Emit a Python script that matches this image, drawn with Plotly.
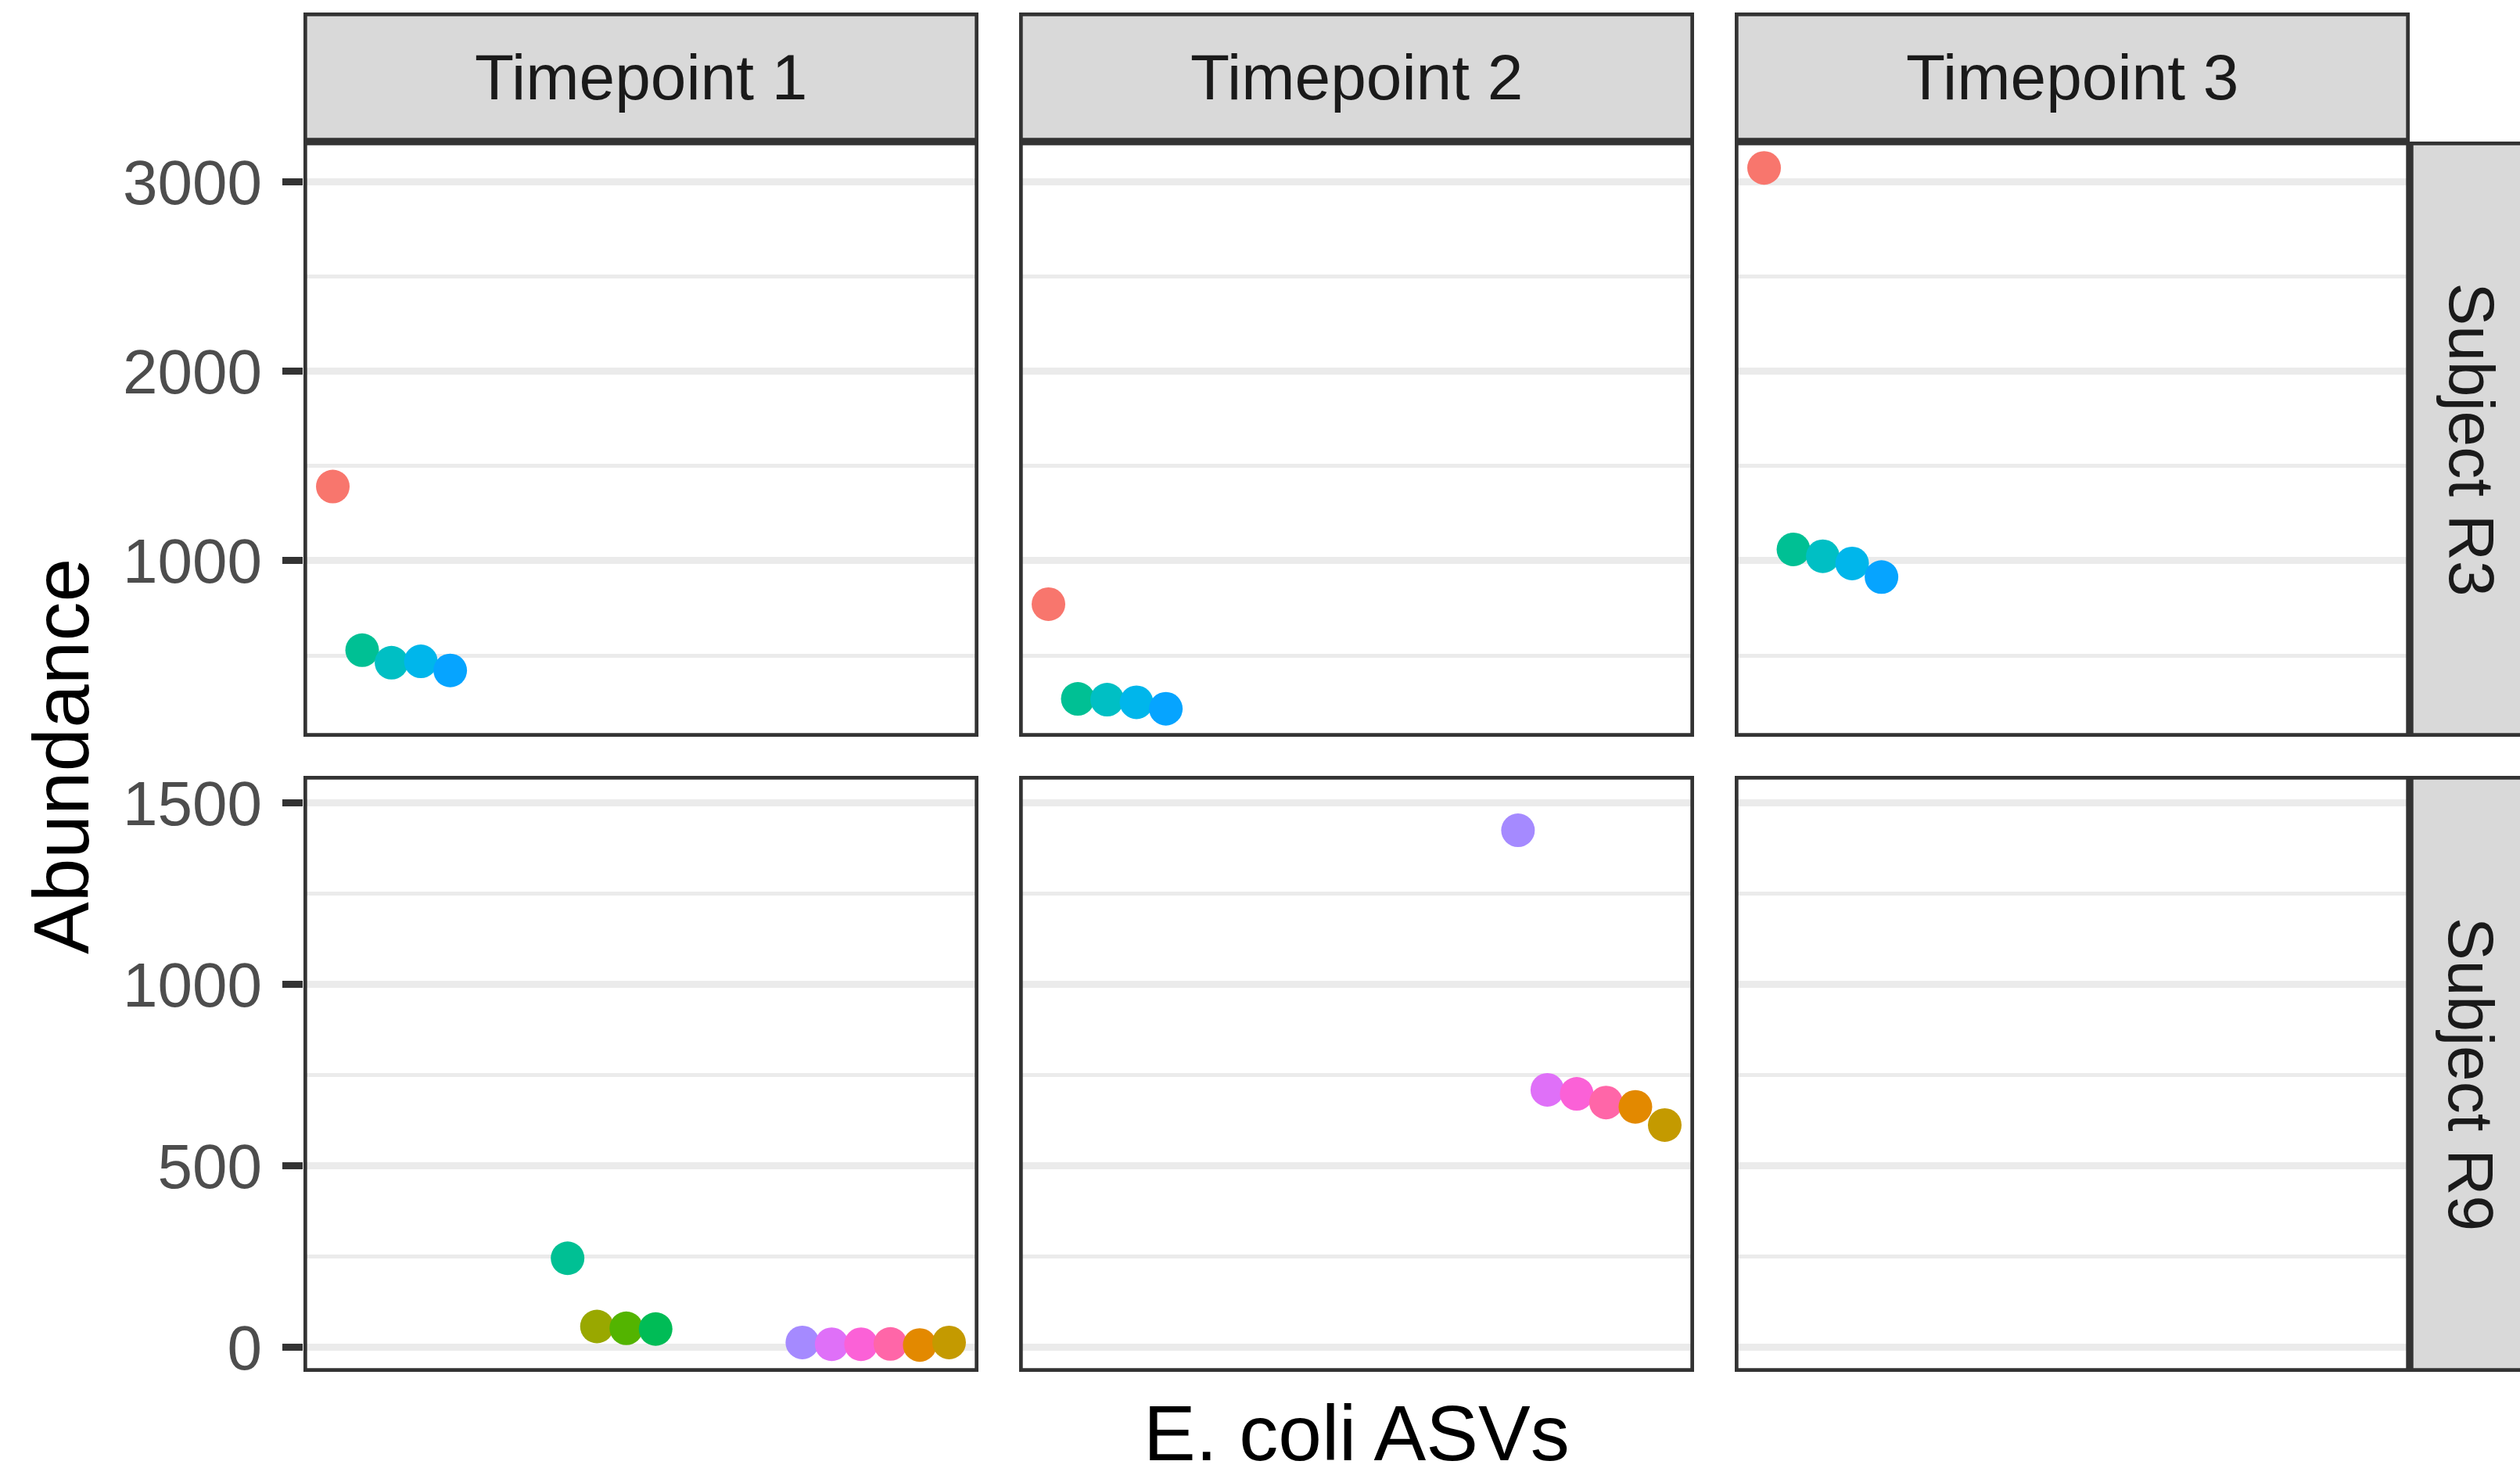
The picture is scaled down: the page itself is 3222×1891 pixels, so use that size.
import plotly.graph_objects as go

# ---------------- data ----------------
timepoints = ["Timepoint 1", "Timepoint 2", "Timepoint 3"]
subjects = ["Subject R3", "Subject R9"]

# x index of each ASV (axis labels hidden in the original)
r3_asv_pos = [1, 2, 3, 4, 5]
r3_colors = ["#F8766D", "#00C094", "#00BFC4", "#00B6EB", "#06A4FF"]
r3_t1 = [1392, 528, 462, 469, 421]
r3_t2 = [771, 271, 267, 253, 219]
r3_t3 = [3074, 1060, 1024, 986, 914]

r9_asv_pos = [9, 10, 11, 12, 17, 18, 19, 20, 21, 22]
r9_colors = ["#00C094", "#99A800", "#53B400", "#00BC56", "#A58AFF",
             "#DF70F8", "#FB61D7", "#FF66A8", "#E38900", "#C49A00"]
r9_t1 = [246, 58, 53, 51, 14, 9, 9, 10, 7, 14]
r9_t2 = [None, None, None, None, 1425, 710, 699, 675, 663, 613]
r9_t3 = [None] * 10

y_ticks = {"Subject R3": [1000, 2000, 3000], "Subject R9": [0, 500, 1000, 1500]}
y_dtick = {"Subject R3": 1000, "Subject R9": 500}
y_range = {"Subject R3": [71, 3213], "Subject R9": [-67, 1575]}
x_range = [0, 23]

panels = {
    ("Subject R3", 0): r3_t1, ("Subject R3", 1): r3_t2, ("Subject R3", 2): r3_t3,
    ("Subject R9", 0): r9_t1, ("Subject R9", 1): r9_t2, ("Subject R9", 2): r9_t3,
}
pos_of = {"Subject R3": r3_asv_pos, "Subject R9": r9_asv_pos}
col_of = {"Subject R3": r3_colors, "Subject R9": r9_colors}

# ---------------- layout geometry (pixels) ----------------
W, H = 3222, 1891
cols_px = [(388, 1251), (1303, 2166), (2218, 3081)]
rows_px = [(181, 942), (992, 1754)]
strip_top = (16, 181)
strip_right = (3081, 3260)
LW = 4.7
FONT = "Liberation Sans, Arial, Helvetica, sans-serif"

def fx(p):
    return p / W

def fy(p):
    return 1 - p / H

fig = go.Figure()
layout = dict(
    width=W, height=H, margin=dict(l=0, r=0, t=0, b=0, autoexpand=False),
    paper_bgcolor="white", plot_bgcolor="white", showlegend=False,
)
shapes, annotations = [], []

for r, subj in enumerate(subjects):
    for c in range(3):
        i = r * 3 + c + 1
        xs = "" if i == 1 else str(i)
        xa, ya = "x" + xs, "y" + xs
        yvals = panels[(subj, c)]
        fig.add_trace(go.Scatter(
            x=pos_of[subj], y=yvals, mode="markers", xaxis=xa, yaxis=ya,
            marker=dict(size=43, color=col_of[subj], line=dict(width=0)),
            hoverinfo="x+y", cliponaxis=True,
        ))
        l, rt = cols_px[c]
        t, b = rows_px[r]
        layout["xaxis" + xs] = dict(
            domain=[fx(l), fx(rt)], anchor=ya, range=x_range,
            showgrid=False, zeroline=False, showticklabels=False, ticks="",
            showline=False, fixedrange=True,
        )
        yax = dict(
            domain=[fy(b), fy(t)], anchor=xa, range=y_range[subj],
            tickmode="array", tickvals=y_ticks[subj],
            showgrid=True, gridcolor="#EBEBEB", gridwidth=9.4,
            minor=dict(dtick=y_dtick[subj] / 2, tick0=0, showgrid=True,
                       gridcolor="#EBEBEB", gridwidth=4.7, ticks=""),
            zeroline=False, showline=False, fixedrange=True,
        )
        if c == 0:
            yax.update(showticklabels=True, ticks="outside", ticklen=26,
                       tickwidth=9.4, tickcolor="#333333",
                       tickfont=dict(family=FONT, size=80, color="#4D4D4D"),
                       ticklabelstandoff=10)
        else:
            yax.update(showticklabels=False, ticks="")
        layout["yaxis" + xs] = yax

        # panel border (inside half, like a clipped ggplot border)
        shapes.append(dict(
            type="rect", xref="paper", yref="paper", layer="above",
            x0=fx(l + LW / 2), x1=fx(rt - LW / 2), y0=fy(b - LW / 2), y1=fy(t + LW / 2),
            line=dict(color="#333333", width=LW), fillcolor="rgba(0,0,0,0)",
        ))

# top strips
for c, tp in enumerate(timepoints):
    l, rt = cols_px[c]
    t, b = strip_top
    shapes.append(dict(
        type="rect", xref="paper", yref="paper", layer="above",
        x0=fx(l + LW / 2), x1=fx(rt - LW / 2), y0=fy(b - LW / 2), y1=fy(t + LW / 2),
        line=dict(color="#333333", width=LW), fillcolor="#D9D9D9",
    ))
    annotations.append(dict(
        text=tp, xref="paper", yref="paper", x=fx((l + rt) / 2), y=fy((t + b) / 2),
        xanchor="center", yanchor="middle", showarrow=False,
        font=dict(family=FONT, size=82, color="#1A1A1A"),
    ))

# right strips
for r, subj in enumerate(subjects):
    t, b = rows_px[r]
    l, rt = strip_right
    shapes.append(dict(
        type="rect", xref="paper", yref="paper", layer="above",
        x0=fx(l + LW / 2), x1=fx(rt - LW / 2), y0=fy(b - LW / 2), y1=fy(t + LW / 2),
        line=dict(color="#333333", width=LW), fillcolor="#D9D9D9",
    ))
    annotations.append(dict(
        text=subj, xref="paper", yref="paper", x=fx(3160), y=fy((t + b) / 2),
        xanchor="center", yanchor="middle", showarrow=False, textangle=90,
        font=dict(family=FONT, size=82, color="#1A1A1A"),
    ))

# axis titles
annotations.append(dict(
    text="Abundance", xref="paper", yref="paper", x=fx(78), y=fy(967),
    xanchor="center", yanchor="middle", showarrow=False, textangle=-90,
    font=dict(family=FONT, size=100, color="black"),
))
annotations.append(dict(
    text="E. coli ASVs", xref="paper", yref="paper", x=fx(1734.5), y=fy(1832),
    xanchor="center", yanchor="middle", showarrow=False, borderpad=0,
    font=dict(family=FONT, size=100, color="black"),
))

layout["shapes"] = shapes
layout["annotations"] = annotations
fig.update_layout(**layout)
fig.write_html(
    "out.html",
    config={"displayModeBar": False},
    post_script="document.body.style.margin='0';document.documentElement.style.overflow='hidden';document.body.style.overflow='hidden';",
)
